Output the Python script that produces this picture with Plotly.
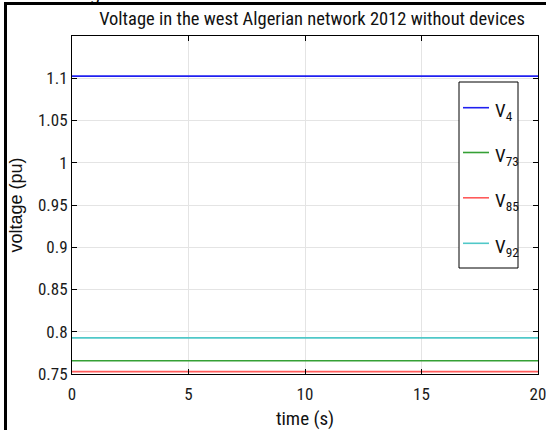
import plotly.graph_objects as go

# ---- data ----
time_s = [0, 20]
v4 = [1.1025, 1.1025]
v73 = [0.7657, 0.7657]
v85 = [0.7528, 0.7528]
v92 = [0.7927, 0.7927]
series_names = ["V<sub>4</sub>", "V<sub>73</sub>", "V<sub>85</sub>", "V<sub>92</sub>"]
series_values = [v4, v73, v85, v92]
series_colors = ["#2020f0", "#35a035", "#ff5a5a", "#50c8c8"]
x_ticks = [0, 5, 10, 15, 20]
y_ticks = [0.75, 0.8, 0.85, 0.9, 0.95, 1, 1.05, 1.1]
y_tick_text = ["0.75", "0.8", "0.85", "0.9", "0.95", "1", "1.05", "1.1"]

W, H = 546, 430
ML, MR, MT, MB = 72, 8, 36, 56
PW, PH = W - ML - MR, H - MT - MB

NARROW = "Liberation Sans Narrow, Arial Narrow, Roboto Condensed, sans-serif"
REG = "Arial, Liberation Sans, sans-serif"

fig = go.Figure()
for i, (name, vals, col) in enumerate(zip(series_names, series_values, series_colors)):
    fig.add_trace(go.Scatter(x=time_s, y=vals, mode="lines", name=name,
                             line=dict(color=col, width=1.7), showlegend=False))

def px_x(p):
    return (p - ML) / PW

def px_y(p):
    return (H - MB - p) / PH

axis_common = dict(showline=True, linecolor="black", linewidth=1, mirror="ticks",
                   ticks="inside", ticklen=5, tickcolor="black",
                   showgrid=True, gridcolor="#e4e4e4", gridwidth=1, zeroline=False,
                   ticklabeloverflow="allow", automargin=False,
                   tickfont=dict(family=NARROW, size=17, color="#1a1a1a"))

fig.update_layout(
    width=W, height=H,
    margin=dict(l=ML, r=MR, t=MT, b=MB),
    paper_bgcolor="white", plot_bgcolor="white",
    title=dict(text="Voltage in the west Algerian network 2012 without devices",
               font=dict(family=NARROW, size=18.5, color="#111"),
               x=(312 - 0) / W, xanchor="center", y=1 - 19 / H, yanchor="middle"),
    xaxis=dict(range=[0, 20], tickvals=x_ticks, ticklabelstandoff=5,
               title=dict(text="time (s)", font=dict(family=NARROW, size=19, color="#111"), standoff=8),
               **axis_common),
    yaxis=dict(range=[0.75, 1.15], tickvals=y_ticks, ticktext=y_tick_text,
               title=dict(text="voltage (pu)", font=dict(family=REG, size=18, color="#111"), standoff=10),
               **axis_common),
    showlegend=False,
)

# legend box drawn by hand (to match the original's spacing)
LEG_L, LEG_R, LEG_T, LEG_B = 459, 518, 82, 268
fig.add_shape(type="rect", xref="paper", yref="paper",
              x0=px_x(LEG_L), x1=px_x(LEG_R), y0=px_y(LEG_B), y1=px_y(LEG_T),
              line=dict(color="black", width=1), fillcolor="white", layer="above")
entry_y = [107.7, 152.5, 197.8, 243.3]
for name, col, ey in zip(series_names, series_colors, entry_y):
    fig.add_shape(type="line", xref="paper", yref="paper",
                  x0=px_x(463), x1=px_x(489), y0=px_y(ey), y1=px_y(ey),
                  line=dict(color=col, width=1.6), layer="above")
    fig.add_annotation(text=name, xref="paper", yref="paper",
                       x=px_x(493), y=px_y(ey + 4), xanchor="left", yanchor="middle",
                       showarrow=False, font=dict(family=NARROW, size=19, color="#111"))

# outer frame of the original figure (cropped)
fig.add_shape(type="line", xref="paper", yref="paper",
              x0=px_x(5.5), x1=px_x(5.5), y0=px_y(3), y1=px_y(H + 5),
              line=dict(color="black", width=3))
fig.add_shape(type="line", xref="paper", yref="paper",
              x0=px_x(4), x1=px_x(W + 5), y0=px_y(3.5), y1=px_y(3.5),
              line=dict(color="black", width=3))
fig.add_annotation(text="g", xref="paper", yref="paper", x=px_x(88), y=px_y(-6),
                   showarrow=False, font=dict(family=REG, size=18, color="black"),
                   yanchor="middle")

fig.write_html("out.html")
